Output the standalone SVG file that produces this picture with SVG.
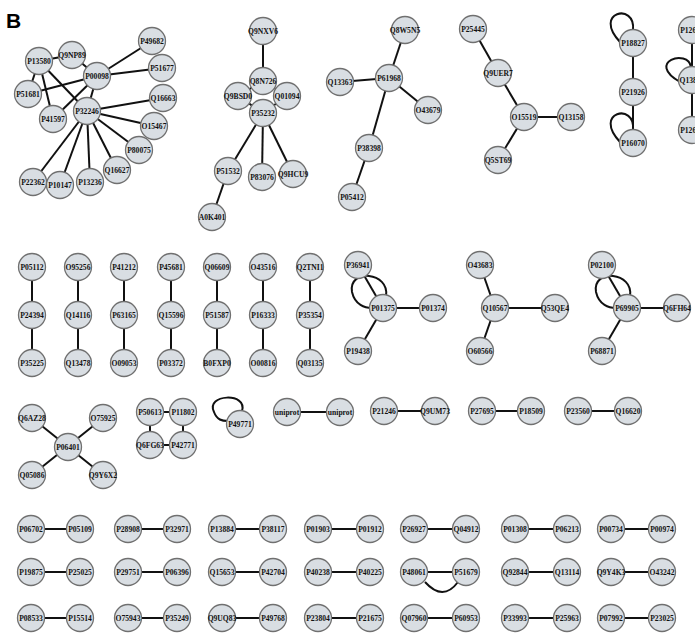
<svg xmlns="http://www.w3.org/2000/svg" width="695" height="634" viewBox="0 0 695 634">
<style>
.n circle{fill:#d9dee3;stroke:#707070;stroke-width:1.3}
.n text{font-family:"Liberation Serif","DejaVu Serif",serif;font-weight:bold;font-size:7.6px;fill:#111;text-anchor:middle;dominant-baseline:central}
#edges line{stroke:#111;stroke-width:2}
#edges path{fill:none;stroke:#111;stroke-width:2}
</style>
<rect width="695" height="634" fill="#fff"/>
<text x="6" y="28" font-family="Liberation Sans,Arial,sans-serif" font-weight="bold" font-size="21" fill="#000">B</text>
<g id="edges">
<!-- cluster 1 -->
<line x1="39" y1="61" x2="72" y2="55"/>
<line x1="72" y1="55" x2="97" y2="76"/>
<line x1="39" y1="61" x2="28" y2="94"/>
<line x1="39" y1="61" x2="53" y2="119"/>
<line x1="39" y1="61" x2="87" y2="111"/>
<line x1="28" y1="94" x2="97" y2="76"/>
<line x1="53" y1="119" x2="97" y2="76"/>
<line x1="97" y1="76" x2="152" y2="41"/>
<line x1="97" y1="76" x2="162" y2="68"/>
<line x1="97" y1="76" x2="87" y2="111"/>
<line x1="87" y1="111" x2="163" y2="98"/>
<line x1="87" y1="111" x2="154" y2="126"/>
<line x1="87" y1="111" x2="139" y2="150"/>
<line x1="87" y1="111" x2="117" y2="170"/>
<line x1="87" y1="111" x2="90" y2="182"/>
<line x1="87" y1="111" x2="60" y2="185"/>
<line x1="87" y1="111" x2="33" y2="182"/>
<!-- cluster 2 -->
<line x1="263" y1="31" x2="263" y2="81"/>
<line x1="263" y1="81" x2="238" y2="96"/>
<line x1="263" y1="81" x2="287" y2="96"/>
<line x1="238" y1="96" x2="263" y2="113"/>
<line x1="287" y1="96" x2="263" y2="113"/>
<line x1="263" y1="113" x2="228" y2="171"/>
<line x1="263" y1="113" x2="262" y2="177"/>
<line x1="263" y1="113" x2="293" y2="174"/>
<line x1="228" y1="171" x2="212" y2="217"/>
<!-- cluster 3 -->
<line x1="405" y1="30" x2="389" y2="78"/>
<line x1="340" y1="82" x2="389" y2="78"/>
<line x1="389" y1="78" x2="428" y2="110"/>
<line x1="389" y1="78" x2="369" y2="148"/>
<line x1="369" y1="148" x2="352" y2="197"/>
<!-- cluster 4 -->
<line x1="473" y1="29" x2="498" y2="73"/>
<line x1="498" y1="73" x2="524" y2="117"/>
<line x1="524" y1="117" x2="571" y2="117"/>
<line x1="524" y1="117" x2="498" y2="160"/>
<!-- cluster 5 -->
<line x1="633" y1="43" x2="633" y2="143"/>
<path d="M633,30 C636,2 592,12 620,42"/>
<path d="M633,130 C636,102 592,112 620,142"/>
<line x1="692" y1="30" x2="692" y2="130"/>
<path d="M691,67 C688,48 645,62 680,82"/>
<!-- row 2 chains -->
<line x1="32" y1="267" x2="32" y2="363"/>
<line x1="78" y1="267" x2="78" y2="363"/>
<line x1="124" y1="267" x2="124" y2="363"/>
<line x1="171" y1="267" x2="171" y2="363"/>
<line x1="217" y1="267" x2="217" y2="363"/>
<line x1="263" y1="267" x2="263" y2="363"/>
<line x1="310" y1="267" x2="310" y2="363"/>
<!-- stars -->
<line x1="358" y1="265" x2="383" y2="308"/>
<line x1="383" y1="308" x2="433" y2="308"/>
<line x1="383" y1="308" x2="358" y2="351"/>
<path d="M386,296 C390,272 348,268 352,292 C355,305 365,308 372,308"/>
<line x1="480" y1="265" x2="495" y2="308"/>
<line x1="495" y1="308" x2="555" y2="308"/>
<line x1="495" y1="308" x2="480" y2="351"/>
<line x1="602" y1="265" x2="627" y2="308"/>
<line x1="627" y1="308" x2="677" y2="308"/>
<line x1="627" y1="308" x2="602" y2="351"/>
<path d="M630,296 C634,272 592,268 596,292 C599,305 609,308 616,308"/>
<!-- row 3 -->
<line x1="32" y1="418" x2="103" y2="475"/>
<line x1="103" y1="418" x2="32" y2="475"/>
<line x1="150" y1="412" x2="183" y2="412"/>
<line x1="150" y1="412" x2="150" y2="445"/>
<line x1="183" y1="412" x2="183" y2="445"/>
<line x1="150" y1="445" x2="183" y2="445"/>
<path d="M242,411 C248,392 205,394 214,412 C217,420 222,421 228,421"/>
<line x1="287" y1="412" x2="340" y2="412"/>
<line x1="384" y1="411" x2="435" y2="411"/>
<line x1="482" y1="411" x2="531" y2="411"/>
<line x1="578" y1="411" x2="628" y2="411"/>
<!-- bottom pairs -->
<line x1="31" y1="529" x2="80" y2="529"/><line x1="128" y1="529" x2="177" y2="529"/><line x1="222" y1="529" x2="273" y2="529"/><line x1="318" y1="529" x2="370" y2="529"/><line x1="414" y1="529" x2="466" y2="529"/><line x1="515" y1="529" x2="567" y2="529"/><line x1="611" y1="529" x2="662" y2="529"/>
<line x1="31" y1="572" x2="80" y2="572"/><line x1="128" y1="572" x2="177" y2="572"/><line x1="222" y1="572" x2="273" y2="572"/><line x1="318" y1="572" x2="370" y2="572"/><line x1="414" y1="572" x2="466" y2="572"/><line x1="515" y1="572" x2="567" y2="572"/><line x1="611" y1="572" x2="662" y2="572"/>
<path d="M425,582 Q443,602 458,582"/>
<line x1="31" y1="618" x2="80" y2="618"/><line x1="128" y1="618" x2="177" y2="618"/><line x1="222" y1="618" x2="273" y2="618"/><line x1="318" y1="618" x2="370" y2="618"/><line x1="414" y1="618" x2="466" y2="618"/><line x1="515" y1="618" x2="567" y2="618"/><line x1="611" y1="618" x2="662" y2="618"/>
</g>
<g id="nodes">
<g class="n" id="P13580"><circle cx="39" cy="61" r="13.5"/><text x="39" y="61">P13580</text></g>
<g class="n" id="Q9NP89"><circle cx="72" cy="55" r="13.5"/><text x="72" y="55">Q9NP89</text></g>
<g class="n" id="P49682"><circle cx="152" cy="41" r="13.5"/><text x="152" y="41">P49682</text></g>
<g class="n" id="P51677"><circle cx="162" cy="68" r="13.5"/><text x="162" y="68">P51677</text></g>
<g class="n" id="P00098"><circle cx="97" cy="76" r="13.5"/><text x="97" y="76">P00098</text></g>
<g class="n" id="P51681"><circle cx="28" cy="94" r="13.5"/><text x="28" y="94">P51681</text></g>
<g class="n" id="Q16663"><circle cx="163" cy="98" r="13.5"/><text x="163" y="98">Q16663</text></g>
<g class="n" id="P32246"><circle cx="87" cy="111" r="13.5"/><text x="87" y="111">P32246</text></g>
<g class="n" id="P41597"><circle cx="53" cy="119" r="13.5"/><text x="53" y="119">P41597</text></g>
<g class="n" id="O15467"><circle cx="154" cy="126" r="13.5"/><text x="154" y="126">O15467</text></g>
<g class="n" id="P80075"><circle cx="139" cy="150" r="13.5"/><text x="139" y="150">P80075</text></g>
<g class="n" id="Q16627"><circle cx="117" cy="170" r="13.5"/><text x="117" y="170">Q16627</text></g>
<g class="n" id="P22362"><circle cx="33" cy="182" r="13.5"/><text x="33" y="182">P22362</text></g>
<g class="n" id="P10147"><circle cx="60" cy="185" r="13.5"/><text x="60" y="185">P10147</text></g>
<g class="n" id="P13236"><circle cx="90" cy="182" r="13.5"/><text x="90" y="182">P13236</text></g>

<g class="n" id="Q9NXV6"><circle cx="263" cy="31" r="13.5"/><text x="263" y="31">Q9NXV6</text></g>
<g class="n" id="Q8N726"><circle cx="263" cy="81" r="13.5"/><text x="263" y="81">Q8N726</text></g>
<g class="n" id="Q9BSD0"><circle cx="238" cy="96" r="13.5"/><text x="238" y="96">Q9BSD0</text></g>
<g class="n" id="Q01094"><circle cx="287" cy="96" r="13.5"/><text x="287" y="96">Q01094</text></g>
<g class="n" id="P35232"><circle cx="263" cy="113" r="13.5"/><text x="263" y="113">P35232</text></g>
<g class="n" id="P51532"><circle cx="228" cy="171" r="13.5"/><text x="228" y="171">P51532</text></g>
<g class="n" id="P83076"><circle cx="262" cy="177" r="13.5"/><text x="262" y="177">P83076</text></g>
<g class="n" id="Q9HCU9"><circle cx="293" cy="174" r="13.5"/><text x="293" y="174">Q9HCU9</text></g>
<g class="n" id="A0K401"><circle cx="212" cy="217" r="13.5"/><text x="212" y="217">A0K401</text></g>

<g class="n" id="Q8W5N5"><circle cx="405" cy="30" r="13.5"/><text x="405" y="30">Q8W5N5</text></g>
<g class="n" id="P61968"><circle cx="389" cy="78" r="13.5"/><text x="389" y="78">P61968</text></g>
<g class="n" id="Q13363"><circle cx="340" cy="82" r="13.5"/><text x="340" y="82">Q13363</text></g>
<g class="n" id="O43679"><circle cx="428" cy="110" r="13.5"/><text x="428" y="110">O43679</text></g>
<g class="n" id="P38398"><circle cx="369" cy="148" r="13.5"/><text x="369" y="148">P38398</text></g>
<g class="n" id="P05412"><circle cx="352" cy="197" r="13.5"/><text x="352" y="197">P05412</text></g>

<g class="n" id="P25445"><circle cx="473" cy="29" r="13.5"/><text x="473" y="29">P25445</text></g>
<g class="n" id="Q9UER7"><circle cx="498" cy="73" r="13.5"/><text x="498" y="73">Q9UER7</text></g>
<g class="n" id="O15519"><circle cx="524" cy="117" r="13.5"/><text x="524" y="117">O15519</text></g>
<g class="n" id="Q13158"><circle cx="571" cy="117" r="13.5"/><text x="571" y="117">Q13158</text></g>
<g class="n" id="Q5ST69"><circle cx="498" cy="160" r="13.5"/><text x="498" y="160">Q5ST69</text></g>

<g class="n" id="P18827"><circle cx="633" cy="43" r="13.5"/><text x="633" y="43">P18827</text></g>
<g class="n" id="P21926"><circle cx="633" cy="92" r="13.5"/><text x="633" y="92">P21926</text></g>
<g class="n" id="P16070"><circle cx="633" cy="143" r="13.5"/><text x="633" y="143">P16070</text></g>
<g class="n" id="P12643"><circle cx="692" cy="30" r="13.5"/><text x="692" y="30">P12643</text></g>
<g class="n" id="Q13873"><circle cx="692" cy="80" r="13.5"/><text x="692" y="80">Q13873</text></g>
<g class="n" id="P12644"><circle cx="692" cy="130" r="13.5"/><text x="692" y="130">P12644</text></g>

<g class="n" id="P05112"><circle cx="32" cy="267" r="13.5"/><text x="32" y="267">P05112</text></g>
<g class="n" id="P24394"><circle cx="32" cy="315" r="13.5"/><text x="32" y="315">P24394</text></g>
<g class="n" id="P35225"><circle cx="32" cy="363" r="13.5"/><text x="32" y="363">P35225</text></g>
<g class="n" id="O95256"><circle cx="78" cy="267" r="13.5"/><text x="78" y="267">O95256</text></g>
<g class="n" id="Q14116"><circle cx="78" cy="315" r="13.5"/><text x="78" y="315">Q14116</text></g>
<g class="n" id="Q13478"><circle cx="78" cy="363" r="13.5"/><text x="78" y="363">Q13478</text></g>
<g class="n" id="P41212"><circle cx="124" cy="267" r="13.5"/><text x="124" y="267">P41212</text></g>
<g class="n" id="P63165"><circle cx="124" cy="315" r="13.5"/><text x="124" y="315">P63165</text></g>
<g class="n" id="O09053"><circle cx="124" cy="363" r="13.5"/><text x="124" y="363">O09053</text></g>
<g class="n" id="P45681"><circle cx="171" cy="267" r="13.5"/><text x="171" y="267">P45681</text></g>
<g class="n" id="Q15596"><circle cx="171" cy="315" r="13.5"/><text x="171" y="315">Q15596</text></g>
<g class="n" id="P03372"><circle cx="171" cy="363" r="13.5"/><text x="171" y="363">P03372</text></g>
<g class="n" id="Q06609"><circle cx="217" cy="267" r="13.5"/><text x="217" y="267">Q06609</text></g>
<g class="n" id="P51587"><circle cx="217" cy="315" r="13.5"/><text x="217" y="315">P51587</text></g>
<g class="n" id="B0FXP0"><circle cx="217" cy="363" r="13.5"/><text x="217" y="363">B0FXP0</text></g>
<g class="n" id="O43516"><circle cx="263" cy="267" r="13.5"/><text x="263" y="267">O43516</text></g>
<g class="n" id="P16333"><circle cx="263" cy="315" r="13.5"/><text x="263" y="315">P16333</text></g>
<g class="n" id="O00816"><circle cx="263" cy="363" r="13.5"/><text x="263" y="363">O00816</text></g>
<g class="n" id="Q2TNI1"><circle cx="310" cy="267" r="13.5"/><text x="310" y="267">Q2TNI1</text></g>
<g class="n" id="P35354"><circle cx="310" cy="315" r="13.5"/><text x="310" y="315">P35354</text></g>
<g class="n" id="Q03135"><circle cx="310" cy="363" r="13.5"/><text x="310" y="363">Q03135</text></g>

<g class="n" id="P36941"><circle cx="358" cy="265" r="13.5"/><text x="358" y="265">P36941</text></g>
<g class="n" id="P01375"><circle cx="383" cy="308" r="13.5"/><text x="383" y="308">P01375</text></g>
<g class="n" id="P01374"><circle cx="433" cy="308" r="13.5"/><text x="433" y="308">P01374</text></g>
<g class="n" id="P19438"><circle cx="358" cy="351" r="13.5"/><text x="358" y="351">P19438</text></g>
<g class="n" id="O43683"><circle cx="480" cy="265" r="13.5"/><text x="480" y="265">O43683</text></g>
<g class="n" id="Q10567"><circle cx="495" cy="308" r="13.5"/><text x="495" y="308">Q10567</text></g>
<g class="n" id="Q53QE4"><circle cx="555" cy="308" r="13.5"/><text x="555" y="308">Q53QE4</text></g>
<g class="n" id="O60566"><circle cx="480" cy="351" r="13.5"/><text x="480" y="351">O60566</text></g>
<g class="n" id="P02100"><circle cx="602" cy="265" r="13.5"/><text x="602" y="265">P02100</text></g>
<g class="n" id="P69905"><circle cx="627" cy="308" r="13.5"/><text x="627" y="308">P69905</text></g>
<g class="n" id="Q6FH64"><circle cx="677" cy="308" r="13.5"/><text x="677" y="308">Q6FH64</text></g>
<g class="n" id="P68871"><circle cx="602" cy="351" r="13.5"/><text x="602" y="351">P68871</text></g>

<g class="n" id="Q6AZ28"><circle cx="32" cy="418" r="13.5"/><text x="32" y="418">Q6AZ28</text></g>
<g class="n" id="O75925"><circle cx="103" cy="418" r="13.5"/><text x="103" y="418">O75925</text></g>
<g class="n" id="P06401"><circle cx="68" cy="447" r="13.5"/><text x="68" y="447">P06401</text></g>
<g class="n" id="Q05086"><circle cx="32" cy="475" r="13.5"/><text x="32" y="475">Q05086</text></g>
<g class="n" id="Q9Y6X2"><circle cx="103" cy="475" r="13.5"/><text x="103" y="475">Q9Y6X2</text></g>
<g class="n" id="P50613"><circle cx="150" cy="412" r="13.5"/><text x="150" y="412">P50613</text></g>
<g class="n" id="P11802"><circle cx="183" cy="412" r="13.5"/><text x="183" y="412">P11802</text></g>
<g class="n" id="Q6FG63"><circle cx="150" cy="445" r="13.5"/><text x="150" y="445">Q6FG63</text></g>
<g class="n" id="P42771"><circle cx="183" cy="445" r="13.5"/><text x="183" y="445">P42771</text></g>
<g class="n" id="P49771"><circle cx="240" cy="424" r="13.5"/><text x="240" y="424">P49771</text></g>
<g class="n" id="uniprot-a"><circle cx="287" cy="412" r="13.5"/><text x="287" y="412">uniprot</text></g>
<g class="n" id="uniprot-b"><circle cx="340" cy="412" r="13.5"/><text x="340" y="412">uniprot</text></g>
<g class="n" id="P21246"><circle cx="384" cy="411" r="13.5"/><text x="384" y="411">P21246</text></g>
<g class="n" id="Q9UM73"><circle cx="435" cy="411" r="13.5"/><text x="435" y="411">Q9UM73</text></g>
<g class="n" id="P27695"><circle cx="482" cy="411" r="13.5"/><text x="482" y="411">P27695</text></g>
<g class="n" id="P18509"><circle cx="531" cy="411" r="13.5"/><text x="531" y="411">P18509</text></g>
<g class="n" id="P23560"><circle cx="578" cy="411" r="13.5"/><text x="578" y="411">P23560</text></g>
<g class="n" id="Q16620"><circle cx="628" cy="411" r="13.5"/><text x="628" y="411">Q16620</text></g>

<g class="n" id="P06702"><circle cx="31" cy="529" r="13.5"/><text x="31" y="529">P06702</text></g>
<g class="n" id="P05109"><circle cx="80" cy="529" r="13.5"/><text x="80" y="529">P05109</text></g>
<g class="n" id="P28908"><circle cx="128" cy="529" r="13.5"/><text x="128" y="529">P28908</text></g>
<g class="n" id="P32971"><circle cx="177" cy="529" r="13.5"/><text x="177" y="529">P32971</text></g>
<g class="n" id="P13884"><circle cx="222" cy="529" r="13.5"/><text x="222" y="529">P13884</text></g>
<g class="n" id="P38117"><circle cx="273" cy="529" r="13.5"/><text x="273" y="529">P38117</text></g>
<g class="n" id="P01903"><circle cx="318" cy="529" r="13.5"/><text x="318" y="529">P01903</text></g>
<g class="n" id="P01912"><circle cx="370" cy="529" r="13.5"/><text x="370" y="529">P01912</text></g>
<g class="n" id="P26927"><circle cx="414" cy="529" r="13.5"/><text x="414" y="529">P26927</text></g>
<g class="n" id="Q04912"><circle cx="466" cy="529" r="13.5"/><text x="466" y="529">Q04912</text></g>
<g class="n" id="P01308"><circle cx="515" cy="529" r="13.5"/><text x="515" y="529">P01308</text></g>
<g class="n" id="P06213"><circle cx="567" cy="529" r="13.5"/><text x="567" y="529">P06213</text></g>
<g class="n" id="P00734"><circle cx="611" cy="529" r="13.5"/><text x="611" y="529">P00734</text></g>
<g class="n" id="P00974"><circle cx="662" cy="529" r="13.5"/><text x="662" y="529">P00974</text></g>

<g class="n" id="P19875"><circle cx="31" cy="572" r="13.5"/><text x="31" y="572">P19875</text></g>
<g class="n" id="P25025"><circle cx="80" cy="572" r="13.5"/><text x="80" y="572">P25025</text></g>
<g class="n" id="P29751"><circle cx="128" cy="572" r="13.5"/><text x="128" y="572">P29751</text></g>
<g class="n" id="P06396"><circle cx="177" cy="572" r="13.5"/><text x="177" y="572">P06396</text></g>
<g class="n" id="Q15653"><circle cx="222" cy="572" r="13.5"/><text x="222" y="572">Q15653</text></g>
<g class="n" id="P42704"><circle cx="273" cy="572" r="13.5"/><text x="273" y="572">P42704</text></g>
<g class="n" id="P40238"><circle cx="318" cy="572" r="13.5"/><text x="318" y="572">P40238</text></g>
<g class="n" id="P40225"><circle cx="370" cy="572" r="13.5"/><text x="370" y="572">P40225</text></g>
<g class="n" id="P48061"><circle cx="414" cy="572" r="13.5"/><text x="414" y="572">P48061</text></g>
<g class="n" id="P51679"><circle cx="466" cy="572" r="13.5"/><text x="466" y="572">P51679</text></g>
<g class="n" id="Q92844"><circle cx="515" cy="572" r="13.5"/><text x="515" y="572">Q92844</text></g>
<g class="n" id="Q13114"><circle cx="567" cy="572" r="13.5"/><text x="567" y="572">Q13114</text></g>
<g class="n" id="Q9Y4K3"><circle cx="611" cy="572" r="13.5"/><text x="611" y="572">Q9Y4K3</text></g>
<g class="n" id="O43242"><circle cx="662" cy="572" r="13.5"/><text x="662" y="572">O43242</text></g>

<g class="n" id="P08533"><circle cx="31" cy="618" r="13.5"/><text x="31" y="618">P08533</text></g>
<g class="n" id="P15514"><circle cx="80" cy="618" r="13.5"/><text x="80" y="618">P15514</text></g>
<g class="n" id="O75943"><circle cx="128" cy="618" r="13.5"/><text x="128" y="618">O75943</text></g>
<g class="n" id="P35249"><circle cx="177" cy="618" r="13.5"/><text x="177" y="618">P35249</text></g>
<g class="n" id="Q9UQ83"><circle cx="222" cy="618" r="13.5"/><text x="222" y="618">Q9UQ83</text></g>
<g class="n" id="P49768"><circle cx="273" cy="618" r="13.5"/><text x="273" y="618">P49768</text></g>
<g class="n" id="P23804"><circle cx="318" cy="618" r="13.5"/><text x="318" y="618">P23804</text></g>
<g class="n" id="P21675"><circle cx="370" cy="618" r="13.5"/><text x="370" y="618">P21675</text></g>
<g class="n" id="Q07960"><circle cx="414" cy="618" r="13.5"/><text x="414" y="618">Q07960</text></g>
<g class="n" id="P60953"><circle cx="466" cy="618" r="13.5"/><text x="466" y="618">P60953</text></g>
<g class="n" id="P33993"><circle cx="515" cy="618" r="13.5"/><text x="515" y="618">P33993</text></g>
<g class="n" id="P25963"><circle cx="567" cy="618" r="13.5"/><text x="567" y="618">P25963</text></g>
<g class="n" id="P07992"><circle cx="611" cy="618" r="13.5"/><text x="611" y="618">P07992</text></g>
<g class="n" id="P23025"><circle cx="662" cy="618" r="13.5"/><text x="662" y="618">P23025</text></g>
</g>
</svg>
